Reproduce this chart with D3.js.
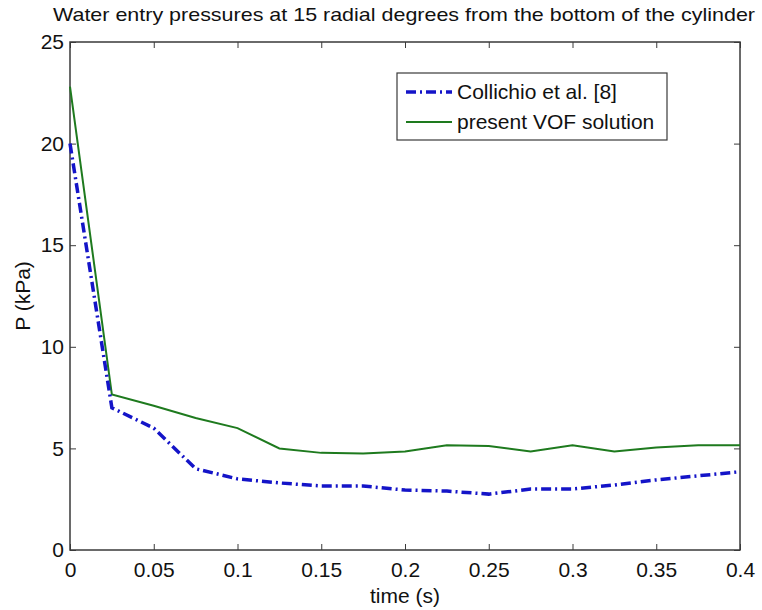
<!DOCTYPE html>
<html>
<head>
<meta charset="utf-8">
<script src="https://cdn.jsdelivr.net/npm/d3@7"></script>
<style>
  body { margin: 0; background: #fff; }
  svg { display: block; font-family: "Liberation Sans", Arial, sans-serif; }
</style>
</head>
<body>
<svg id="chart" width="762" height="610"></svg>
<script>
// time axis (s)
var timeVals = [0, 0.025, 0.05, 0.075, 0.1, 0.125, 0.15, 0.175, 0.2, 0.225, 0.25, 0.275, 0.3, 0.325, 0.35, 0.375, 0.4];
// Collichio et al. [8]
var collichio = [20.0, 7.0, 6.0, 4.0, 3.5, 3.3, 3.15, 3.15, 2.95, 2.9, 2.75, 3.0, 3.0, 3.2, 3.45, 3.65, 3.85];
// present VOF solution
var vof = [22.8, 7.65, 7.1, 6.5, 6.0, 5.0, 4.78, 4.75, 4.85, 5.15, 5.12, 4.85, 5.15, 4.85, 5.05, 5.15, 5.15];

var xTicks = [0, 0.05, 0.1, 0.15, 0.2, 0.25, 0.3, 0.35, 0.4];
var yTicks = [0, 5, 10, 15, 20, 25];

var margin = { top: 42, right: 22, bottom: 60, left: 70 },
  width = 762 - margin.left - margin.right,
  height = 610 - margin.top - margin.bottom;

var svg = d3.select("#chart");
var g = svg.append("g").attr("transform", `translate(${margin.left},${margin.top})`);

var x = d3.scaleLinear().domain([0, 0.4]).range([0, width]);
var y = d3.scaleLinear().domain([0, 25]).range([height, 0]);

var axisColor = "#3a3a3a";

// box + inward ticks on all four sides
function styleAxis(sel) {
  sel.select(".domain").remove();
  sel.selectAll(".tick line").attr("stroke", axisColor);
  sel.selectAll(".tick text").attr("fill", "#111").style("font-size", "21px");
}

g.append("g")
  .attr("transform", `translate(0,${height})`)
  .call(d3.axisBottom(x).tickValues(xTicks).tickSizeInner(-6).tickSizeOuter(0).tickPadding(12)
    .tickFormat(d => d3.format("~g")(d)))
  .call(styleAxis);

g.append("g")
  .call(d3.axisTop(x).tickValues(xTicks).tickSizeInner(-6).tickSizeOuter(0).tickFormat(""))
  .call(styleAxis);

g.append("g")
  .call(d3.axisLeft(y).tickValues(yTicks).tickSizeInner(-6).tickSizeOuter(0).tickPadding(6))
  .call(styleAxis);

g.append("g")
  .attr("transform", `translate(${width},0)`)
  .call(d3.axisRight(y).tickValues(yTicks).tickSizeInner(-6).tickSizeOuter(0).tickFormat(""))
  .call(styleAxis);

g.append("rect")
  .attr("width", width).attr("height", height)
  .attr("fill", "none").attr("stroke", axisColor).attr("stroke-width", 1.5);

var line = d3.line()
  .x((d, i) => x(timeVals[i]))
  .y(d => y(d));

g.append("path")
  .datum(vof)
  .attr("d", line)
  .attr("fill", "none")
  .attr("stroke", "#1e7a1e")
  .attr("stroke-width", 2);

g.append("path")
  .datum(collichio)
  .attr("d", line)
  .attr("fill", "none")
  .attr("stroke", "#1414c8")
  .attr("stroke-width", 3.5)
  .attr("stroke-dasharray", "10,4,2,4");

// title and axis labels
svg.append("text")
  .attr("x", 404).attr("y", 21)
  .attr("text-anchor", "middle")
  .attr("textLength", 702).attr("lengthAdjust", "spacingAndGlyphs")
  .style("font-size", "19px")
  .attr("fill", "#111")
  .text("Water entry pressures at 15 radial degrees from the bottom of the cylinder");

svg.append("text")
  .attr("x", margin.left + width / 2).attr("y", 603)
  .attr("text-anchor", "middle")
  .style("font-size", "21px")
  .attr("fill", "#111")
  .text("time (s)");

svg.append("text")
  .attr("transform", `translate(30,${margin.top + height / 2}) rotate(-90)`)
  .attr("text-anchor", "middle")
  .style("font-size", "21px")
  .attr("fill", "#111")
  .text("P (kPa)");

// legend
var legend = svg.append("g").attr("transform", "translate(397,73)");
legend.append("rect")
  .attr("width", 270).attr("height", 67)
  .attr("fill", "#fff").attr("stroke", axisColor).attr("stroke-width", 1.2);

var legendItems = [
  { label: "Collichio et al. [8]", color: "#1414c8", w: 3.5, dash: "10,4,2,4" },
  { label: "present VOF solution", color: "#1e7a1e", w: 2, dash: null }
];

legendItems.forEach(function (d, i) {
  var row = legend.append("g").attr("transform", `translate(0,${19 + i * 30})`);
  row.append("line")
    .attr("x1", 9).attr("x2", 55)
    .attr("stroke", d.color).attr("stroke-width", d.w)
    .attr("stroke-dasharray", d.dash);
  row.append("text")
    .attr("x", 60).attr("y", 7)
    .style("font-size", "21px")
    .attr("fill", "#111")
    .text(d.label);
});
</script>
</body>
</html>
